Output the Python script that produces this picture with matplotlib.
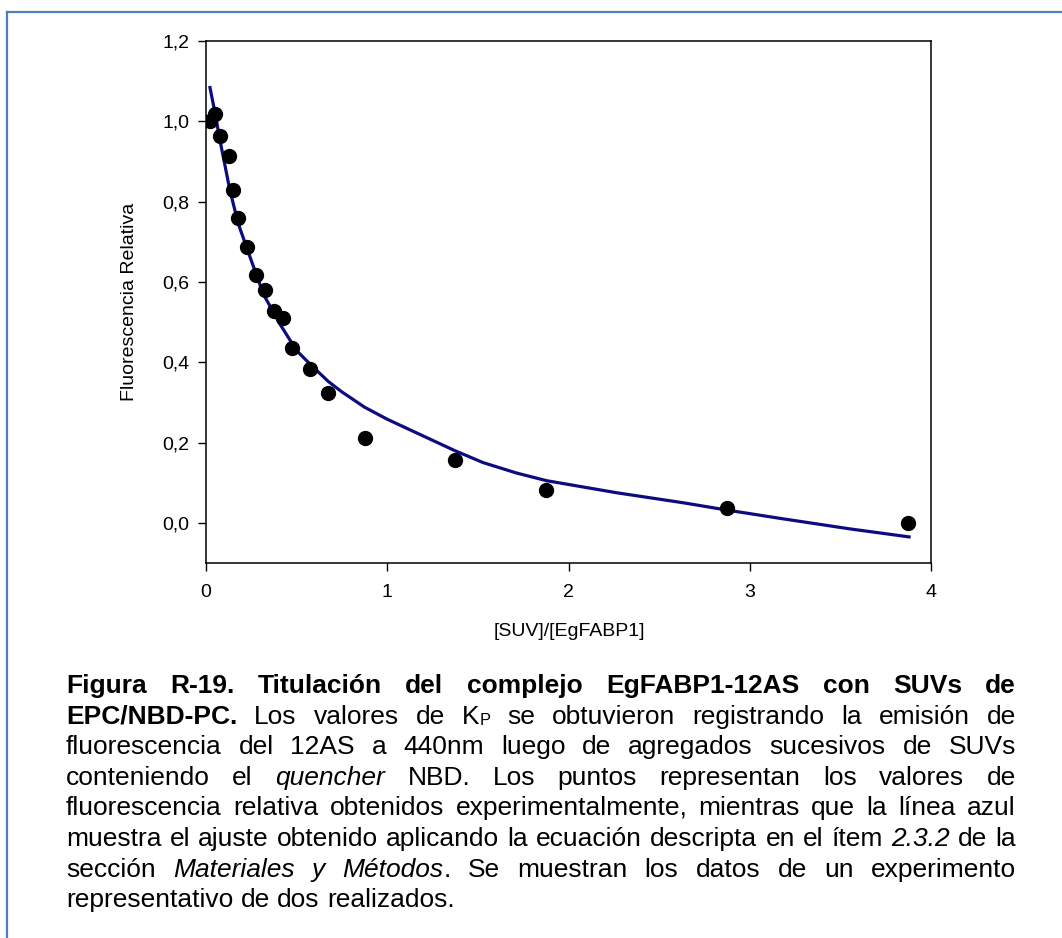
import matplotlib
matplotlib.use("Agg")
import matplotlib.pyplot as plt
from matplotlib.lines import Line2D
from matplotlib.ticker import FuncFormatter

plt.rcParams['font.family'] = ['Liberation Sans', 'DejaVu Sans']

# ---- data ----
ratio_x = [0.02, 0.05, 0.075, 0.125, 0.15, 0.175, 0.225, 0.275, 0.325, 0.375,
           0.425, 0.475, 0.575, 0.675, 0.875, 1.375, 1.875, 2.875, 3.875]
fluor_y = [1.000, 1.017, 0.963, 0.913, 0.828, 0.760, 0.687, 0.618, 0.579, 0.527,
           0.510, 0.436, 0.382, 0.324, 0.211, 0.156, 0.082, 0.036, 0.000]

fit_x = [0.022, 0.050, 0.077, 0.132, 0.178, 0.243, 0.316, 0.408, 0.500, 0.575,
         0.675, 0.750, 0.875, 1.000, 1.162, 1.372, 1.529, 1.714, 1.879, 2.265,
         2.633, 2.872, 3.184, 3.552, 3.879]
fit_y = [1.084, 1.020, 0.953, 0.828, 0.745, 0.662, 0.570, 0.495, 0.429, 0.395,
         0.352, 0.326, 0.288, 0.258, 0.224, 0.180, 0.150, 0.124, 0.105, 0.075,
         0.050, 0.032, 0.010, -0.015, -0.035]

x_ticks = [0, 1, 2, 3, 4]
y_ticks = [0.0, 0.2, 0.4, 0.6, 0.8, 1.0, 1.2]
x_label = "[SUV]/[EgFABP1]"
y_label = "Fluorescencia Relativa"

W, H = 1062, 938
fig = plt.figure(figsize=(W / 100, H / 100), dpi=100)
fig.patch.set_facecolor('white')

# frame border of the figure box
fig.add_artist(Line2D([7 / W, 1.0], [1 - 12 / H, 1 - 12 / H], transform=fig.transFigure,
                      color='#4f7fb3', lw=1.6))
fig.add_artist(Line2D([7 / W, 7 / W], [1 - 12 / H, 0.0], transform=fig.transFigure,
                      color='#4f7fb3', lw=1.6))

ax = fig.add_axes([206 / W, 1 - 563 / H, (931 - 206) / W, (563 - 41) / H])
ax.plot(fit_x, fit_y, color='#0c0c80', lw=2.3, zorder=2)
ax.plot(ratio_x, fluor_y, 'o', color='black', ms=10, zorder=3)

ax.set_xlim(0, 4)
ax.set_ylim(-0.1, 1.2)
ax.set_xticks(x_ticks)
ax.set_yticks(y_ticks)
ax.yaxis.set_major_formatter(FuncFormatter(lambda v, p: f"{v:.1f}".replace('.', ',')))
ax.xaxis.set_major_formatter(FuncFormatter(lambda v, p: f"{v:g}"))
ax.tick_params(direction='out', length=6, width=1, labelsize=14,
               top=False, right=False, colors='black')
ax.tick_params(axis='y', pad=6)
ax.tick_params(axis='x', pad=9)
for s in ax.spines.values():
    s.set_linewidth(1.1)
    s.set_color('black')

fig.text(129 / W, 1 - 302 / H, y_label, rotation=90, ha='center', va='center', fontsize=14)
fig.text(569 / W, 1 - 632 / H, x_label, ha='center', va='center', fontsize=14)

# ---- justified caption ----
FS = 19


def words(text, style='R'):
    return [[(t, style)] for t in text.split()]


caption_lines = [
    (words("Figura R-19. Titulación del complejo EgFABP1-12AS con SUVs de", 'B'), True),
    (words("EPC/NBD-PC.", 'B') + words("Los valores de") + [[("K", 'R'), ("P", 'S')]]
     + words("se obtuvieron registrando la emisión de"), True),
    (words("fluorescencia del 12AS a 440nm luego de agregados sucesivos de SUVs"), True),
    (words("conteniendo el") + words("quencher", 'I')
     + words("NBD. Los puntos representan los valores de"), True),
    (words("fluorescencia relativa obtenidos experimentalmente, mientras que la línea azul"), True),
    (words("muestra el ajuste obtenido aplicando la ecuación descripta en el ítem")
     + words("2.3.2", 'I') + words("de la"), True),
    (words("sección") + words("Materiales y", 'I') + [[("Métodos", 'I'), (".", 'R')]]
     + words("Se muestran los datos de un experimento"), True),
    (words("representativo de dos realizados."), False),
]


def props(style):
    if style == 'B':
        return dict(fontsize=FS, fontweight='bold')
    if style == 'I':
        return dict(fontsize=FS, fontstyle='italic')
    if style == 'S':
        return dict(fontsize=FS * 0.62)
    return dict(fontsize=FS)


renderer = fig.canvas.get_renderer()


def width_of(text, style):
    t = fig.text(0, 0, text, **props(style))
    w = t.get_window_extent(renderer).width
    t.remove()
    return w


x_left, x_right = 66, 1016
space_w = width_of("a b", 'R') - width_of("ab", 'R')
base0, step = 693, 30.6
for i, (line, justify) in enumerate(caption_lines):
    wlist = [[(txt, st, width_of(txt, st)) for txt, st in wd] for wd in line]
    total = sum(r[2] for wd in wlist for r in wd)
    gap = (x_right - x_left - total) / (len(wlist) - 1) if justify else space_w
    x = x_left
    yb = base0 + step * i
    for wd in wlist:
        for txt, st, wdt in wd:
            dy = 1.0 if st == 'S' else 0.0
            fig.text(x / W, 1 - (yb + dy) / H, txt, ha='left', va='baseline',
                     color='black', **props(st))
            x += wdt
        x += gap

fig.savefig("out.png", dpi=100, facecolor='white')
